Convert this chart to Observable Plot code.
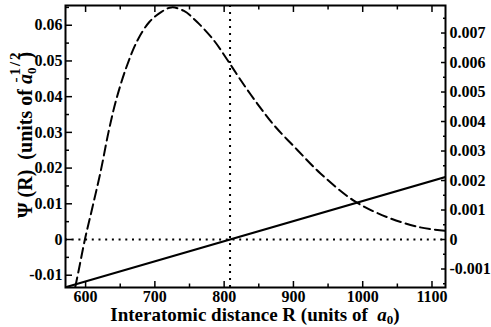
<!DOCTYPE html>
<html><head><meta charset="utf-8">
<script src="https://cdn.jsdelivr.net/npm/d3@7"></script>
<script src="https://cdn.jsdelivr.net/npm/@observablehq/plot@0.6"></script>
<style>
body{margin:0;background:#fff}
svg{display:block}
#chart svg text{font-family:'Liberation Serif','Times New Roman',serif !important;font-weight:bold}
</style>
</head><body><div id="chart"></div>
<script>
// Dashed curve: Psi(R), left axis units
const psiR = [585, 590, 599, 610, 622, 633, 644, 659, 675, 692, 709, 724, 742, 761, 785, 805, 824, 848, 872, 906, 939, 987, 1036, 1083, 1119.5];
const psiV = [-0.0134, -0.0087, 0, 0.0091, 0.0193, 0.0300, 0.0390, 0.0483, 0.0558, 0.0609, 0.0637, 0.0650, 0.0640, 0.0609, 0.0558, 0.0502, 0.0446, 0.0380, 0.0320, 0.0250, 0.0185, 0.0109, 0.0062, 0.0034, 0.0024];
// Solid line: right axis units
const lineR = [571, 1119.5];
const lineV = [-0.00162, 0.00212];

const xTicks = [600, 700, 800, 900, 1000, 1100];
const xMinor = [650, 750, 850, 950, 1050];
const leftTicks = [-0.01, 0, 0.01, 0.02, 0.03, 0.04, 0.05, 0.06];
const leftMinor = [-0.005, 0.005, 0.015, 0.025, 0.035, 0.045, 0.055, 0.065];
const rightTicks = [-0.001, 0, 0.001, 0.002, 0.003, 0.004, 0.005, 0.006, 0.007];
const rightMinor = [-0.0015, -0.0005, 0.0005, 0.0015, 0.0025, 0.0035, 0.0045, 0.0055, 0.0065, 0.0075];
const zeroLine = [0];
const markerR = [808.5];

const xDomain = [571, 1119.5];
const yDomain = [-0.01344, 0.06553];
const K = 8.26; // left units per right unit

const psi = psiR.map((r, i) => ({r, v: psiV[i]}));
const solid = lineR.map((r, i) => ({r, v: lineV[i] * K}));

const fmtL = d => String(Math.round(d * 1000) / 1000);
const fmtR = d => String(Math.round(d / K * 10000) / 10000);

const SERIF = "'Liberation Serif', 'Times New Roman', serif";
const txt = {fontSize: 16, fontWeight: "bold", fontFamily: SERIF};

const plot = Plot.plot({
  width: 491, height: 327,
  marginLeft: 65, marginRight: 46, marginTop: 5, marginBottom: 40,
  style: {fontFamily: SERIF, color: "black", background: "white"},
  x: {domain: xDomain, label: null},
  y: {domain: yDomain, label: null},
  marks: [
    Plot.ruleY(zeroLine, {strokeDasharray: "2,4.7", strokeWidth: 2}),
    Plot.ruleX(markerR, {strokeDasharray: "2,5", strokeWidth: 2}),
    Plot.line(psi, {x: "r", y: "v", strokeDasharray: "10,5", strokeWidth: 2, curve: "catmull-rom", clip: true}),
    Plot.line(solid, {x: "r", y: "v", strokeWidth: 2, clip: true}),
    // tick labels
    Plot.axisX({ticks: xTicks, tickSize: 0, tickPadding: 3, tickFormat: d => String(d), label: null, ...txt}),
    Plot.axisY({ticks: leftTicks, tickSize: 0, tickPadding: 3, tickFormat: fmtL, label: null, ...txt}),
    Plot.axisY({anchor: "right", ticks: rightTicks.map(d => d * K), tickSize: 0, tickPadding: 4, tickFormat: fmtR, label: null, ...txt}),
    // inward ticks
    Plot.axisX({ticks: xTicks, tickSize: 6, dy: -6, fill: "none", label: null, strokeWidth: 1.5}),
    Plot.axisX({ticks: xMinor, tickSize: 3.5, dy: -3.5, fill: "none", label: null, strokeWidth: 1.5}),
    Plot.axisX({anchor: "top", ticks: xTicks, tickSize: 6, dy: 6, fill: "none", label: null, strokeWidth: 1.5}),
    Plot.axisX({anchor: "top", ticks: xMinor, tickSize: 3.5, dy: 3.5, fill: "none", label: null, strokeWidth: 1.5}),
    Plot.axisY({ticks: leftTicks, tickSize: 7, dx: 7, fill: "none", label: null, strokeWidth: 1.5}),
    Plot.axisY({ticks: leftMinor, tickSize: 4, dx: 4, fill: "none", label: null, strokeWidth: 1.5}),
    Plot.axisY({anchor: "right", ticks: rightTicks.map(d => d * K), tickSize: 5, dx: -5, fill: "none", label: null, strokeWidth: 1.5}),
    Plot.axisY({anchor: "right", ticks: rightMinor.map(d => d * K), tickSize: 3, dx: -3, fill: "none", label: null, strokeWidth: 1.5}),
    Plot.frame({strokeWidth: 2})
  ]
});

const svg = d3.select(plot);
const xt = svg.append("text")
  .attr("x", 255).attr("y", 320.5).attr("text-anchor", "middle")
  .style("font-size", "19px")
  .attr("fill", "black");
xt.append("tspan").text("Interatomic distance R (units of\u00a0\u00a0");
xt.append("tspan").attr("font-style", "italic").text("a");
xt.append("tspan").attr("font-size", "13px").attr("dy", 3.5).text("0");
xt.append("tspan").attr("dy", -3.5).text(")");

const yt = svg.append("text")
  .attr("transform", "translate(32,218) rotate(-90)")
  .attr("text-anchor", "start")
  .style("font-size", "20px")
  .attr("fill", "black");
yt.append("tspan").text("\u03A8 (R)\u00a0\u00a0(units of ");
yt.append("tspan").attr("font-style", "italic").text("a");
yt.append("tspan").attr("font-size", "13px").attr("dy", 4).text("0");
yt.append("tspan").attr("font-size", "15px").attr("letter-spacing", "2px").attr("dy", -16).attr("dx", -15).text("-1/2");
yt.append("tspan").attr("dy", 12).attr("dx", -8).text(")");

document.getElementById("chart").appendChild(plot);
</script>
</body></html>
